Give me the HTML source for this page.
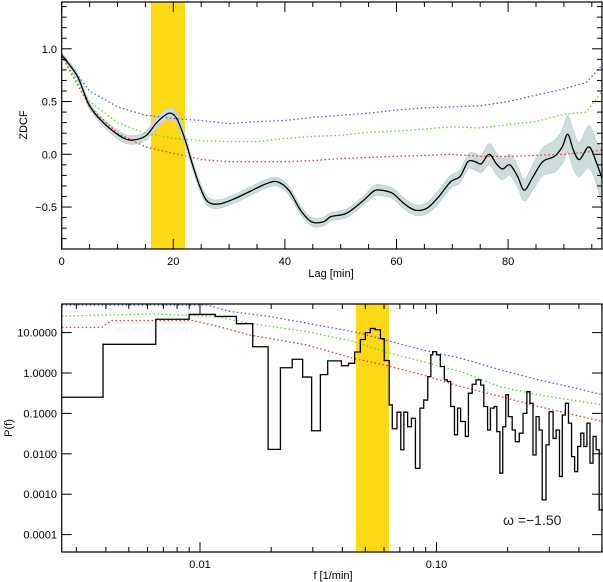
<!DOCTYPE html>
<html><head><meta charset="utf-8"><style>
html,body{margin:0;padding:0;background:#fff;}
svg{display:block;font-family:"Liberation Sans","DejaVu Sans",sans-serif;}
</style></head><body>
<svg id="c" width="603" height="582" viewBox="0 0 603 582" xmlns="http://www.w3.org/2000/svg"></svg>
<script>
// ---------- top panel data (ZDCF) ----------
const lagVals=[0,2.8,4.8,6.9,9.7,11.7,13.4,15.2,17.2,19.3,20.7,22.1,23.4,24.8,26.2,28.3,31,33.8,36.6,38.6,40.7,42.8,44.8,46.9,48.3,51,53.8,55.9,57.2,59.3,61.4,63.4,65.5,67.6,69.7,71.4,72.8,74.1,75.2,76.6,77.9,79,80.3,81.7,82.9,84.5,86.2,88.3,89.7,90.7,91.7,92.8,94.5,95.9,96.9];
const zdcfVals=[0.94,0.74,0.48,0.33,0.20,0.14,0.14,0.18,0.31,0.39,0.33,0.14,-0.09,-0.31,-0.45,-0.47,-0.42,-0.35,-0.28,-0.26,-0.34,-0.53,-0.64,-0.64,-0.59,-0.56,-0.45,-0.35,-0.34,-0.37,-0.47,-0.53,-0.51,-0.40,-0.26,-0.21,-0.07,-0.07,-0.09,0.0,-0.09,-0.14,-0.10,-0.21,-0.34,-0.21,-0.07,-0.02,0.07,0.19,0.04,-0.05,0.07,-0.09,-0.24];
const zdcfErr=[0.02,0.03,0.03,0.03,0.04,0.04,0.04,0.04,0.05,0.05,0.05,0.05,0.04,0.04,0.04,0.04,0.04,0.04,0.04,0.04,0.04,0.04,0.04,0.04,0.04,0.04,0.04,0.05,0.05,0.05,0.05,0.05,0.05,0.06,0.06,0.06,0.07,0.08,0.08,0.1,0.1,0.1,0.1,0.1,0.1,0.12,0.13,0.15,0.16,0.18,0.18,0.16,0.2,0.2,0.3];
const sigLag=[0,5,10,15,20,25,30,35,40,45,50,55,60,65,70,75,80,85,90,94,96.9];
const sig3=[0.95,0.6,0.45,0.37,0.34,0.32,0.29,0.31,0.32,0.35,0.37,0.39,0.42,0.44,0.45,0.46,0.5,0.56,0.62,0.68,0.85];
const sig2=[0.93,0.5,0.3,0.2,0.15,0.13,0.12,0.12,0.15,0.17,0.18,0.21,0.22,0.24,0.26,0.25,0.28,0.31,0.38,0.40,0.6];
const sig1=[0.93,0.45,0.2,0.07,0.01,-0.05,-0.07,-0.07,-0.07,-0.06,-0.04,-0.03,-0.02,-0.01,0.0,-0.02,-0.02,-0.01,0.0,0.02,0.04];
const topBand=[16.0,22.1];
const topXTicks=[0,20,40,60,80];
const topYTicks=[-0.5,0.0,0.5,1.0];
const topYLabels=["\u22120.5","0.0","0.5","1.0"];
// ---------- bottom panel data (log10 values of PSD) ----------
const stepLogF=[-2.585,-2.410,-2.187,-2.046,-1.935,-1.846,-1.777,-1.712,-1.660,-1.610,-1.566,-1.528,-1.491,-1.460,-1.402,-1.372,-1.346,-1.322,-1.301,-1.280,-1.259,-1.237,-1.221,-1.200,-1.187,-1.167,-1.151,-1.138,-1.122,-1.106,-1.089,-1.070,-1.054,-1.037,-1.024,-1.016,-1.000,-0.984,-0.967,-0.954,-0.940,-0.924,-0.911,-0.898,-0.878,-0.865,-0.849,-0.833,-0.813,-0.800,-0.784,-0.772,-0.756,-0.745,-0.732,-0.720,-0.707,-0.696,-0.680,-0.667,-0.650,-0.634,-0.618,-0.605,-0.592,-0.579,-0.566,-0.553,-0.537,-0.524,-0.507,-0.494,-0.480,-0.468,-0.455,-0.442,-0.429,-0.416,-0.403,-0.390,-0.377,-0.364,-0.351,-0.338,-0.325,-0.312,-0.296];
const stepLogP=[-0.60,0.71,1.33,1.45,1.40,1.22,0.65,-1.89,0.13,0.34,-0.10,-1.43,-0.04,0.30,0.18,0.24,0.52,0.83,1.0,1.10,1.07,0.85,0.31,-0.79,-1.38,-0.97,-1.90,-0.97,-1.33,-1.12,-2.36,-0.87,-0.67,-0.09,0.45,0.53,0.45,0.16,-0.17,-0.21,-0.83,-1.53,-0.87,-1.20,-1.57,-0.50,-0.28,-0.17,-0.30,-0.83,-1.41,-0.87,-0.83,-1.45,-2.48,-1.33,-0.54,-1.08,-1.41,-1.70,-1.49,-1.0,-0.46,-0.75,-2.03,-1.08,-1.41,-3.14,-1.78,-0.96,-1.62,-1.41,-2.56,-1.04,-0.75,-1.24,-2.07,-2.44,-1.82,-1.49,-1.82,-1.24,-2.23,-1.57,-1.90,-3.39];
const b3F=[-2.585,-1.967,-1.870,-1.707,-1.545,-1.333,-1.220,-1.057,-0.894,-0.732,-0.569,-0.407,-0.299];
const b3P=[1.68,1.68,1.52,1.40,1.23,1.0,0.82,0.57,0.36,0.08,-0.17,-0.38,-0.54];
const b2F=[-2.585,-2.195,-1.935,-1.789,-1.545,-1.350,-1.220,-1.057,-0.894,-0.732,-0.569,-0.299];
const b2P=[1.41,1.46,1.40,1.23,1.02,0.78,0.53,0.28,0.03,-0.34,-0.54,-0.79];
const b1F=[-2.585,-2.415,-2.374,-2.033,-1.935,-1.789,-1.545,-1.350,-1.220,-1.057,-0.894,-0.732,-0.569,-0.299];
const b1P=[1.13,1.13,1.30,1.30,1.17,0.94,0.69,0.36,0.20,-0.05,-0.34,-0.58,-0.83,-1.20];
const botBand=[0.0457,0.063];
const botYTicks=[0.0001,0.001,0.01,0.1,1,10];
const botYLabels=["0.0001","0.0010","0.0100","0.1000","1.0000","10.0000"];
const botXTicks=[0.01,0.1];
const botXLabels=["0.01","0.10"];

const NS="http://www.w3.org/2000/svg";
const svg=document.getElementById('c');
function mk(tag,attrs,parent){const e=document.createElementNS(NS,tag);for(const k in attrs)e.setAttribute(k,attrs[k]);(parent||svg).appendChild(e);return e;}
function smooth(P){ // Catmull-Rom to bezier
  let d='M'+P[0][0]+','+P[0][1];
  for(let i=0;i<P.length-1;i++){
    const p0=P[Math.max(0,i-1)],p1=P[i],p2=P[i+1],p3=P[Math.min(P.length-1,i+2)];
    const c1=[p1[0]+(p2[0]-p0[0])/6,p1[1]+(p2[1]-p0[1])/6];
    const c2=[p2[0]-(p3[0]-p1[0])/6,p2[1]-(p3[1]-p1[1])/6];
    d+=' C'+c1[0]+','+c1[1]+' '+c2[0]+','+c2[1]+' '+p2[0]+','+p2[1];
  }
  return d;
}

// ---- top axes ----
const T={l:61.7,r:602,t:2,b:249};
const tx=v=>T.l+v*5.58;
const ty=v=>154.3-v*105.5;
const clip=mk('clipPath',{id:'ctop'});mk('rect',{x:T.l,y:T.t,width:T.r-T.l,height:T.b-T.t},clip);
let r=mk('rect',{x:tx(topBand[0]),y:T.t,width:tx(topBand[1])-tx(topBand[0]),height:T.b-T.t,fill:'#fdd915'});


const eg=mk('g',{'clip-path':'url(#ctop)'});


let up=[],dn=[];
for(let i=0;i<lagVals.length;i++){up.push([tx(lagVals[i]),ty(zdcfVals[i]+zdcfErr[i])]);dn.push([tx(lagVals[i]),ty(zdcfVals[i]-zdcfErr[i])]);}
dn.reverse();
mk('path',{d:smooth(up)+' L'+smooth(dn).slice(1)+' Z',fill:'#cfdcdc',stroke:'#bccfcf','stroke-width':0.8},eg);
function line(xs,ys,fx,fy,col,dash,w,name){
  const p=mk('polyline',{points:xs.map((x,i)=>fx(x)+','+fy(ys[i])).join(' '),fill:'none',stroke:col,'stroke-width':w,'stroke-dasharray':dash||'none'});
  
  
  return p;
}
line(sigLag,sig3,tx,ty,'#4a5cf0','1.5 2.5',1.3,'sigma3-line-top');
line(sigLag,sig2,tx,ty,'#55dd22','1.5 2.5',1.3,'sigma2-line-top');
line(sigLag,sig1,tx,ty,'#ee3333','1.5 2.5',1.3,'sigma1-line-top');
let zl=mk('path',{d:smooth(lagVals.map((x,i)=>[tx(x),ty(zdcfVals[i])])),fill:'none',stroke:'#000','stroke-width':1.3,'clip-path':'url(#ctop)'});


function frame(F,name){let f=mk('rect',{x:F.l,y:F.t,width:F.r-F.l,height:F.b-F.t,fill:'none',stroke:'#000','stroke-width':1.2});}
frame(T,'top-plot-frame');
const tk=mk('g',{stroke:'#000','stroke-width':1});


for(let v=0;v<=96;v+=5){const L=v%20===0?10:5;const x=tx(v);mk('line',{x1:x,x2:x,y1:T.b,y2:T.b-L},tk);mk('line',{x1:x,x2:x,y1:T.t,y2:T.t+L},tk);}
for(let k=-8;k<=14;k++){const v=k/10;const L=k%5===0?10:5;const y=ty(v);mk('line',{x1:T.l,x2:T.l+L,y1:y,y2:y},tk);mk('line',{x1:T.r,x2:T.r-L,y1:y,y2:y},tk);}
topXTicks.forEach(v=>{let t=mk('text',{x:tx(v),y:265,'font-size':11,'text-anchor':'middle',fill:'#000'});t.textContent=v;});
topYTicks.forEach((v,i)=>{let t=mk('text',{x:57,y:ty(v)+4,'font-size':11,'text-anchor':'end',fill:'#000'});t.textContent=topYLabels[i];});
let t1=mk('text',{x:331,y:277,'font-size':11,'text-anchor':'middle'});t1.textContent='Lag [min]';


let t2=mk('text',{x:0,y:0,'font-size':11,'text-anchor':'middle',transform:'translate(27,125) rotate(-90)'});t2.textContent='ZDCF';



// ---- bottom axes ----
const B={l:61.7,r:602,t:304,b:552};
const bxl=lf=>200+(lf+2)*236.5;
const byl=lp=>373-lp*40.4;
const bx=f=>bxl(Math.log10(f));
const by=p=>byl(Math.log10(p));
let r2=mk('rect',{x:bx(botBand[0]),y:B.t,width:bx(botBand[1])-bx(botBand[0]),height:B.b-B.t,fill:'#fdd915'});


line(b3F,b3P,bxl,byl,'#4a5cf0','1.5 2.5',1.3,'sigma3-line-bottom');
line(b2F,b2P,bxl,byl,'#55dd22','1.5 2.5',1.3,'sigma2-line-bottom');
line(b1F,b1P,bxl,byl,'#ee3333','1.5 2.5',1.3,'sigma1-line-bottom');
let pts=[];
for(let i=0;i<stepLogP.length;i++){pts.push(bxl(stepLogF[i])+','+byl(stepLogP[i]));pts.push(bxl(stepLogF[i+1])+','+byl(stepLogP[i]));}
let ps=mk('polyline',{points:pts.join(' '),fill:'none',stroke:'#000','stroke-width':1.3});


frame(B,'bottom-plot-frame');
const tk2=mk('g',{stroke:'#000','stroke-width':1});


for(let d=-3;d<=-1;d++)for(let m=1;m<=9;m++){const f=m*Math.pow(10,d);const x=bx(f);if(x<B.l||x>B.r)continue;const L=m===1?10:5;mk('line',{x1:x,x2:x,y1:B.b,y2:B.b-L},tk2);mk('line',{x1:x,x2:x,y1:B.t,y2:B.t+L},tk2);}
botYTicks.forEach(v=>{const y=by(v);mk('line',{x1:B.l,x2:B.l+10,y1:y,y2:y},tk2);mk('line',{x1:B.r,x2:B.r-10,y1:y,y2:y},tk2);});
botYTicks.forEach((v,i)=>{let t=mk('text',{x:57,y:by(v)+4,'font-size':11,'text-anchor':'end',fill:'#000'});t.textContent=botYLabels[i];});
botXTicks.forEach((v,i)=>{let t=mk('text',{x:bx(v),y:568,'font-size':11,'text-anchor':'middle',fill:'#000'});t.textContent=botXLabels[i];});
let t3=mk('text',{x:333,y:579,'font-size':11,'text-anchor':'middle'});t3.textContent='f [1/min]';


let t4=mk('text',{x:0,y:0,'font-size':11,'text-anchor':'middle',transform:'translate(12,428) rotate(-90)'});t4.textContent='P(f)';


let t5=mk('text',{x:503,y:525,'font-size':14,fill:'#222'});t5.textContent='\u03c9 =\u22121.50';


</script>
</body></html>
